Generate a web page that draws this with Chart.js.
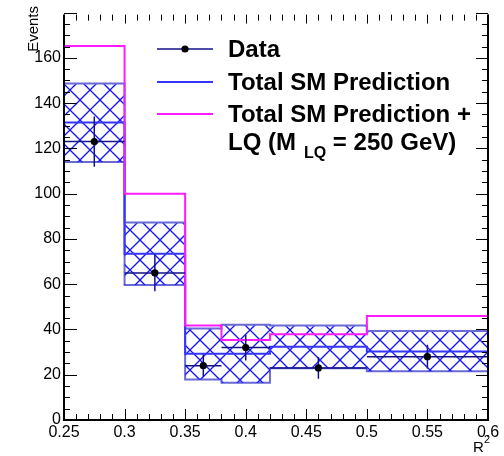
<!DOCTYPE html>
<html>
<head>
<meta charset="utf-8">
<script src="https://cdn.jsdelivr.net/npm/chart.js@4.4.1/dist/chart.umd.min.js"></script>
<style>
  html, body { margin: 0; padding: 0; background: #ffffff; }
  #wrap { width: 504px; height: 456px; position: relative; }
  canvas { display: block; }
</style>
</head>
<body>
<div id="wrap"><canvas id="chart" width="504" height="456"></canvas></div>
<script>
// Histogram binning in R^2
const binEdges = [0.25, 0.30, 0.35, 0.38, 0.42, 0.50, 0.60];

// Total SM prediction + LQ signal (M_LQ = 250 GeV)
const smPlusLQ = [165.2, 100.0, 41.7, 35.4, 37.9, 46.0];
// Total SM prediction and its uncertainty band
const smTotal = [131.4, 73.5, 29.3, 29.3, 32.4, 30.3];
const smUpper = [148.7, 87.3, 40.4, 42.1, 41.7, 39.3];
const smLower = [114.0, 59.7, 17.9, 16.5, 22.9, 21.5];
// Observed events and their statistical errors
const dataCounts = [123, 65, 24, 32, 23, 28];
const dataErrors = [11.1, 8.1, 4.9, 5.7, 4.8, 5.3];

// Axis ticks
const xTickValues = [0.25, 0.30, 0.35, 0.40, 0.45, 0.50, 0.55, 0.60];
const xTickLabels = ['0.25', '0.3', '0.35', '0.4', '0.45', '0.5', '0.55', '0.6'];
const yTickValues = [0, 20, 40, 60, 80, 100, 120, 140, 160, 180];
const yTickLabels = ['0', '20', '40', '60', '80', '100', '120', '140', '160', ''];

const FONT = "'Liberation Sans', Arial, Helvetica, sans-serif";
const HATCH_BLUE = '#1414ff';
const BAND_EDGE = '#6a6ad6';
const SM_BLUE = '#3535ff';
const DATA_NAVY = '#12128a';
const LQ_MAGENTA = '#ff1aff';

// Histogram outline: one point per bin low edge plus the last high edge
function stepPoints(values) {
  const pts = values.map((v, i) => ({ x: binEdges[i], y: v }));
  pts.push({ x: binEdges[binEdges.length - 1], y: values[values.length - 1] });
  return pts;
}

// Horizontal bin-width bars through the data points
function binWidthBars(values) {
  const pts = [];
  values.forEach((v, i) => {
    pts.push({ x: binEdges[i], y: v }, { x: binEdges[i + 1], y: v }, { x: binEdges[i + 1], y: null });
  });
  return pts;
}

const binCenters = dataCounts.map((_, i) => (binEdges[i] + binEdges[i + 1]) / 2);

// Vertical error bars
function errorBars(values, errs) {
  const pts = [];
  values.forEach((v, i) => {
    pts.push({ x: binCenters[i], y: v - errs[i] }, { x: binCenters[i], y: v + errs[i] }, { x: binCenters[i], y: null });
  });
  return pts;
}

// Cross-hatch pattern for the SM uncertainty band
function makeHatch() {
  const size = 20;
  const c = document.createElement('canvas');
  c.width = size; c.height = size;
  const g = c.getContext('2d');
  g.strokeStyle = HATCH_BLUE;
  g.lineWidth = 1.3;
  for (const off of [-size, 0, size]) {
    g.beginPath(); g.moveTo(off, 0); g.lineTo(off + size, size); g.stroke();
    g.beginPath(); g.moveTo(off + size, 0); g.lineTo(off, size); g.stroke();
  }
  return g.createPattern(c, 'repeat');
}

// Inward tick marks and the axis frame
const framePlugin = {
  id: 'frame',
  afterDatasetsDraw(chart) {
    const { ctx, chartArea: a, scales: { x, y } } = chart;
    ctx.save();
    ctx.strokeStyle = '#000';
    ctx.lineWidth = 1;
    // minor + major ticks, x axis (bottom and top)
    for (let i = 0; i <= 35; i++) {
      const v = 0.25 + i * 0.01;
      const px = Math.round(x.getPixelForValue(v)) + 0.5;
      const major = i % 5 === 0;
      const len = major ? 11 : 6;
      ctx.beginPath();
      ctx.moveTo(px, a.bottom); ctx.lineTo(px, a.bottom - len);
      ctx.moveTo(px, a.top + 2); ctx.lineTo(px, a.top + 2 + (major ? 9 : 6));
      ctx.stroke();
    }
    // minor + major ticks, y axis (left and right)
    for (let v = 0; v <= 180; v += 5) {
      const py = Math.round(y.getPixelForValue(v)) + 0.5;
      const major = v % 20 === 0;
      const len = major ? 13 : 6;
      ctx.beginPath();
      ctx.moveTo(a.left, py); ctx.lineTo(a.left + len, py);
      ctx.moveTo(a.right, py); ctx.lineTo(a.right - (major ? 12 : 6), py);
      ctx.stroke();
    }
    ctx.lineWidth = 2;
    ctx.beginPath();
    ctx.moveTo(a.left, a.top + 2); ctx.lineTo(a.left, a.bottom);
    ctx.lineTo(a.right, a.bottom); ctx.lineTo(a.right, a.top + 2);
    ctx.stroke();
    ctx.restore();
  }
};

// Axis titles and the legend box
const annotationPlugin = {
  id: 'annotations',
  afterDraw(chart) {
    const { ctx } = chart;
    ctx.save();
    ctx.fillStyle = '#000';

    // y axis title
    ctx.save();
    ctx.translate(38, 6);
    ctx.rotate(-Math.PI / 2);
    ctx.font = `15px ${FONT}`;
    ctx.textAlign = 'right';
    ctx.textBaseline = 'alphabetic';
    ctx.fillText('Events', 0, 0);
    ctx.restore();

    // x axis title R^2
    ctx.font = `15px ${FONT}`;
    ctx.textAlign = 'left';
    ctx.textBaseline = 'alphabetic';
    ctx.fillText('R', 473, 452);
    ctx.font = `11px ${FONT}`;
    ctx.fillText('2', 484, 443);

    // legend
    const lx0 = 157, lx1 = 213, tx = 228;
    const rows = [49, 82, 114];
    ctx.lineWidth = 1.5;
    ctx.strokeStyle = DATA_NAVY;
    ctx.beginPath(); ctx.moveTo(lx0, rows[0]); ctx.lineTo(lx1, rows[0]); ctx.stroke();
    ctx.beginPath(); ctx.arc((lx0 + lx1) / 2, rows[0], 3.6, 0, Math.PI * 2); ctx.fill();
    ctx.lineWidth = 2;
    ctx.strokeStyle = SM_BLUE;
    ctx.beginPath(); ctx.moveTo(lx0, rows[1]); ctx.lineTo(lx1, rows[1]); ctx.stroke();
    ctx.strokeStyle = LQ_MAGENTA;
    ctx.beginPath(); ctx.moveTo(lx0, rows[2]); ctx.lineTo(lx1, rows[2]); ctx.stroke();

    ctx.font = `bold 24px ${FONT}`;
    ctx.textBaseline = 'middle';
    ctx.fillText('Data', tx, rows[0] + 1);
    ctx.fillText('Total SM Prediction', tx, rows[1] + 1);
    ctx.fillText('Total SM Prediction +', tx, rows[2] + 1);
    const r4 = 143;
    ctx.fillText('LQ (M', tx, r4);
    const w = ctx.measureText('LQ (M').width;
    ctx.font = `bold 16px ${FONT}`;
    ctx.fillText('LQ', tx + w + 8, r4 + 11);
    const w2 = ctx.measureText('LQ').width;
    ctx.font = `bold 24px ${FONT}`;
    ctx.fillText(' = 250 GeV)', tx + w + 8 + w2, r4);
    ctx.restore();
  }
};

const hatch = makeHatch();

new Chart(document.getElementById('chart'), {
  type: 'line',
  data: {
    datasets: [
      {
        label: 'Data',
        data: dataCounts.map((v, i) => ({ x: binCenters[i], y: v })),
        showLine: false,
        pointRadius: 3.6,
        pointBackgroundColor: '#000',
        pointBorderWidth: 0,
        order: 0
      },
      {
        label: 'Data x',
        data: binWidthBars(dataCounts),
        borderColor: DATA_NAVY,
        borderWidth: 1.5,
        pointRadius: 0,
        spanGaps: false,
        order: 1
      },
      {
        label: 'Data err',
        data: errorBars(dataCounts, dataErrors),
        borderColor: DATA_NAVY,
        borderWidth: 1.5,
        pointRadius: 0,
        spanGaps: false,
        order: 1
      },
      {
        label: 'Total SM Prediction + LQ',
        data: stepPoints(smPlusLQ),
        stepped: 'before',
        borderColor: LQ_MAGENTA,
        borderWidth: 2,
        pointRadius: 0,
        fill: false,
        order: 2
      },
      {
        label: 'Total SM Prediction',
        data: stepPoints(smTotal),
        stepped: 'before',
        borderColor: SM_BLUE,
        borderWidth: 2,
        pointRadius: 0,
        fill: false,
        order: 3
      },
      {
        label: 'SM upper',
        data: stepPoints(smUpper),
        stepped: 'before',
        borderColor: BAND_EDGE,
        borderWidth: 2,
        pointRadius: 0,
        backgroundColor: hatch,
        fill: '+1',
        order: 4
      },
      {
        label: 'SM lower',
        data: stepPoints(smLower),
        stepped: 'before',
        borderColor: BAND_EDGE,
        borderWidth: 2,
        pointRadius: 0,
        fill: false,
        order: 5
      }
    ]
  },
  options: {
    responsive: false,
    animation: false,
    devicePixelRatio: 1,
    layout: { padding: { top: 7.5, right: 16, left: 0, bottom: 0 } },
    plugins: { legend: { display: false }, tooltip: { enabled: false } },
    elements: { line: { tension: 0 } },
    scales: {
      x: {
        type: 'linear',
        min: 0.25,
        max: 0.6,
        grid: { display: false, drawTicks: false },
        border: { display: false },
        afterBuildTicks: (s) => { s.ticks = xTickValues.map(v => ({ value: v })); },
        afterFit: (s) => { s.height = 36; },
        ticks: {
          autoSkip: false,
          maxRotation: 0,
          padding: 3,
          color: '#000',
          font: { family: FONT, size: 16 },
          callback: (v, i) => xTickLabels[i]
        }
      },
      y: {
        type: 'linear',
        min: 0,
        max: 180,
        grid: { display: false, drawTicks: false },
        border: { display: false },
        afterBuildTicks: (s) => { s.ticks = yTickValues.map(v => ({ value: v })); },
        afterFit: (s) => { s.width = 64; },
        ticks: {
          autoSkip: false,
          padding: 3,
          color: '#000',
          font: { family: FONT, size: 16 },
          callback: (v, i) => yTickLabels[i]
        }
      }
    }
  },
  plugins: [framePlugin, annotationPlugin]
});
</script>
</body>
</html>
